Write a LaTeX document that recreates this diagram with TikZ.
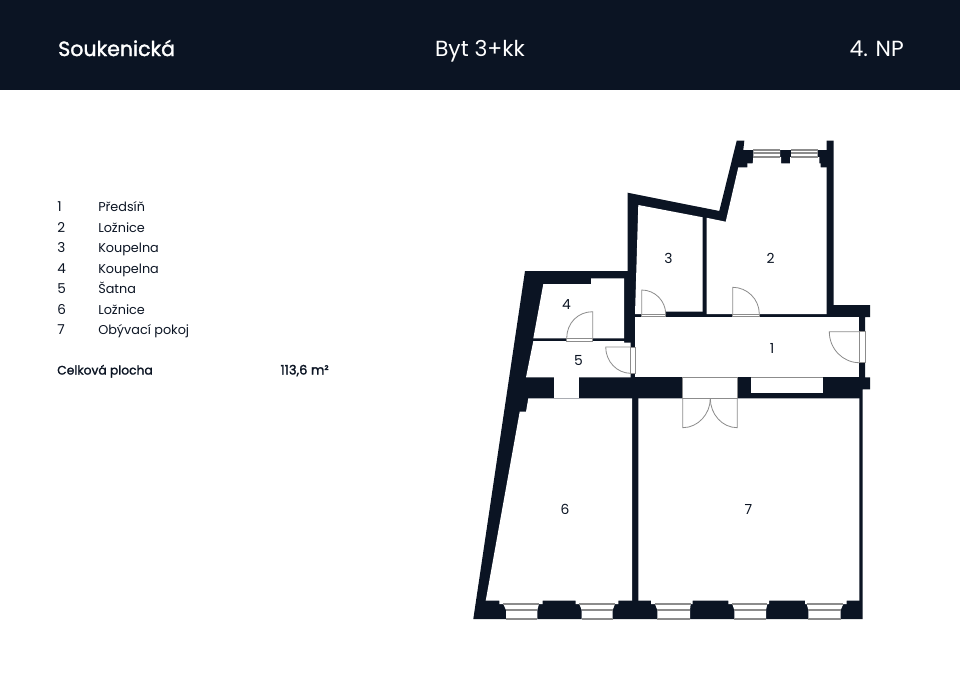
\documentclass[tikz,border=0pt]{standalone}
\usepackage{fontspec}
\setmainfont{Poppins}
\newfontfamily\heavyfont[FakeBold=1.6]{Poppins}
\definecolor{navy}{HTML}{0B1423}
\definecolor{glassgray}{HTML}{8C8C8C}
\tikzset{
  wall/.style={fill=navy, draw=none},
  room/.style={fill=white, draw=none},
  opening/.style={fill=white, draw=glassgray, line width=0.6pt},
  leaf/.style={draw=glassgray, line width=0.6pt},
  glass/.style={draw=glassgray, line width=0.8pt},
  headtext/.style={text=white, font=\fontsize{16.4}{18}\selectfont, inner sep=0pt},
  listtext/.style={text=navy, font=\fontsize{9.6}{12}\selectfont, inner sep=0pt, anchor=base west},
  roomnum/.style={text=navy, font=\fontsize{10.4}{12}\selectfont, inner sep=0pt}
}
\begin{document}
\begin{tikzpicture}[x=0.75pt, y=-0.75pt, line join=miter]
  \useasboundingbox (0,0) rectangle (960,697);
  % Header band
  \fill[navy] (0,0) rectangle (960,90);
  \node [headtext, anchor=base west, font=\fontsize{15.4}{18}\heavyfont] (title) at (58,56) {Soukenická};
  \node [headtext, anchor=base] (flat) at (480,56) {Byt 3+kk};
  \node [headtext, anchor=base east] (floor) at (904,56) {4. NP};
  % Room list
  \foreach \n/\name/\y in {1/Předsíň/211, 2/Ložnice/232, 3/Koupelna/252.4, 4/Koupelna/273.2, 5/Šatna/293.4, 6/Ložnice/314, 7/Obývací pokoj/334.8} {
    \node [listtext, font=\fontsize{10.2}{12}\selectfont] (num-\n) at (57,\y) {\n};
    \node [listtext] (name-\n) at (98,\y) {\name};
  }
  \node [listtext, font=\fontsize{9.2}{12}\heavyfont] (area-label) at (57,374.5) {Celková plocha};
  \node [listtext, anchor=base east, font=\fontsize{9.8}{12}\heavyfont] (area-value) at (329,374.5) {113,6 m²};
  % Walls
  \path [wall] (525,271) -- (627.7,271) -- (627.7,192.7) -- (719.3,211) -- (736.7,140.7) -- (744.3,140.7)
    -- (743.3,150) -- (826.7,150) -- (826.7,140.7) -- (833.7,140.7) -- (833.7,305) -- (870,305) -- (870,317)
    -- (865,317) -- (865,377.3) -- (870,377.3) -- (870,389.3) -- (862.7,389.3) -- (862.7,619) -- (473.3,619) -- cycle;
  % Rooms
  \path [room] (706.7,217.8) -- (725.7,221.7) -- (738.3,167.3) -- (747.3,167.3) -- (747.3,163.3) -- (752.7,163.3)
    -- (753.3,157) -- (753.3,150) -- (780,150) -- (780,157) -- (781,157) -- (781,163.3) -- (790,163.3) -- (790,157)
    -- (791,157) -- (791,150) -- (817.7,150) -- (817.7,157) -- (819.3,157) -- (819.3,163.3) -- (820.7,163.3)
    -- (820.7,167.3) -- (826.7,167.3) -- (826.7,314) -- (706.7,314) -- cycle;
  \path [room] (638.3,205) -- (702.7,217.3) -- (702.7,311.7) -- (665.7,311.7) -- (665.7,314) -- (635,314) -- cycle;
  \path [room] (635,316.7) -- (859.3,316.7) -- (859.3,377.3) -- (635,377.3) -- cycle;
  \path [room] (543.3,284) -- (591,284) -- (591,278.3) -- (624,278.3) -- (624,338.3) -- (533.3,338.3) -- cycle;
  \path [room] (533.3,341) -- (624,341) -- (624,342.7) -- (630.7,342.7) -- (630.7,377.3) -- (526,377.3) -- cycle;
  \path [room] (528.3,398.3) -- (632,398.3) -- (632,600.7) -- (618.3,600.7) -- (618.3,604) -- (615,604) -- (612.7,610)
    -- (612.7,619) -- (581.7,619) -- (581.7,610) -- (579.3,604) -- (575.7,604) -- (575.7,600.7) -- (542.7,600.7)
    -- (542.7,604) -- (539,604) -- (537.3,610) -- (537.3,619) -- (506,619) -- (506,610) -- (503.3,604) -- (499.3,604)
    -- (499.3,600.7) -- (485.7,600.7) -- (519.7,411.7) -- (526,411.7) -- cycle;
  \path [room] (638.3,398.3) -- (859.3,398.3) -- (859.3,600.7) -- (846.7,600.7) -- (846.7,604) -- (843.3,604)
    -- (840.7,610) -- (840.7,619) -- (808.3,619) -- (808.3,610) -- (806.7,604) -- (805,604) -- (805,600.7) -- (769,600.7)
    -- (769,604) -- (767.3,604) -- (766,610) -- (766,619) -- (734.3,619) -- (734.3,610) -- (732.3,604) -- (728.3,604)
    -- (728.3,600.7) -- (692.7,600.7) -- (692.7,604) -- (690.7,604) -- (690,610) -- (690,619) -- (657.3,619) -- (657.3,610)
    -- (655,604) -- (651,604) -- (651,600.7) -- (638.3,600.7) -- cycle;
  % Plain openings
  \fill [white] (554.3,377.3) rectangle (578.7,398.3);
  \fill [white] (751,377.3) rectangle (823.3,392.7);
  \draw [glass] (751,377.3) -- (823.3,377.3);
  % Door openings
  \draw [opening] (566.7,338.3) rectangle (592.7,341);
  \draw [opening] (641.7,314) rectangle (665.7,316.7);
  \draw [opening] (732.7,314) rectangle (759.3,316.7);
  \draw [opening] (630.7,347) rectangle (635,373.3);
  \draw [opening] (859.3,331.7) rectangle (865,362.7);
  \draw [opening] (682.7,377.3) rectangle (737.3,398.5);
  % Door leaves
  \draw [leaf] (592.7,338.3) -- (592.7,311.7) .. controls (578,311.7) and (566.7,323) .. (566.7,338.3);
  \draw [leaf] (641.7,314) -- (641.7,290) .. controls (655,290) and (665.7,301) .. (665.7,314);
  \draw [leaf] (732.7,314) -- (732.7,287.3) .. controls (747,287.3) and (759.3,299) .. (759.3,314);
  \draw [leaf] (630.7,347) -- (605.7,347) .. controls (605.7,361.5) and (617,373.3) .. (630.7,373.3);
  \draw [leaf] (859.3,331.7) -- (829.3,331.7) .. controls (829.3,349) and (843,362.7) .. (859.3,362.7);
  \draw [leaf] (682.7,398.5) -- (682.7,427.7) .. controls (698,427.7) and (710.3,414) .. (710.3,398.5);
  \draw [leaf] (737.3,398.5) -- (737.3,427.7) .. controls (722,427.7) and (710.3,414) .. (710.3,398.5);
  % Windows
  \foreach \a/\b/\c/\d in {503.3/539/506/537.3, 579.3/615/581.7/612.7, 655/690.7/657.3/690, 732.3/767.3/734.3/766, 806.7/843.3/808.3/840.7} {
    \draw [glass] (\a,604) -- (\b,604) (\c,610) -- (\d,610) (\c,619) -- (\d,619);
  }
  \foreach \a/\b in {753.3/780, 791/817.7} {
    \draw [glass] (\a,150) -- (\b,150) (\a,153) -- (\b,153) (\a,157) -- (\b,157);
  }
  % Room numbers
  \node [roomnum] (room-1) at (772,348.6) {1};
  \node [roomnum] (room-2) at (770.5,258.6) {2};
  \node [roomnum] (room-3) at (668.5,258.6) {3};
  \node [roomnum] (room-4) at (566.5,304.6) {4};
  \node [roomnum] (room-5) at (578.5,360.6) {5};
  \node [roomnum] (room-6) at (565,509.6) {6};
  \node [roomnum] (room-7) at (748.5,509.6) {7};
\end{tikzpicture}
\end{document}
